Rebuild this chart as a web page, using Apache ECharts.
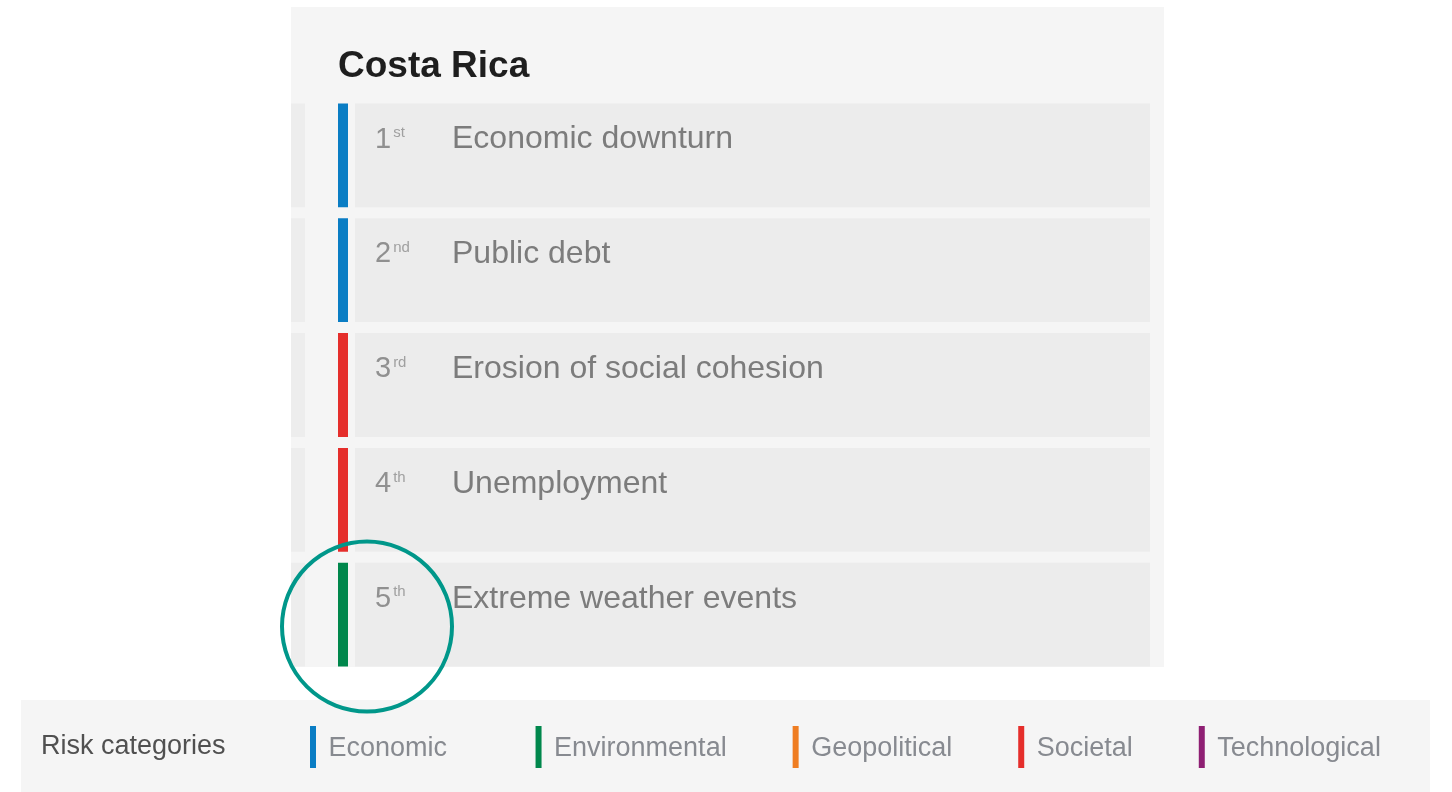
<!DOCTYPE html>
<html>
<head>
<meta charset="utf-8">
<script src="https://cdn.jsdelivr.net/npm/echarts@6/dist/echarts.min.js"></script>
<style>
  html, body { margin: 0; padding: 0; background: #fff; }
  #chart { width: 1452px; height: 792px; }
</style>
</head>
<body>
<div id="chart"></div>
<script>
const country = 'Costa Rica';
const ranks = ['1st', '2nd', '3rd', '4th', '5th'];
const risks = ['Economic downturn', 'Public debt', 'Erosion of social cohesion', 'Unemployment', 'Extreme weather events'];
const riskCategory = ['Economic', 'Economic', 'Societal', 'Societal', 'Environmental'];
const categories = ['Economic', 'Environmental', 'Geopolitical', 'Societal', 'Technological'];
const categoryColors = ['#0a7dc4', '#00874c', '#ef7d22', '#e52e2b', '#8e1f73'];
const highlighted = ['Extreme weather events'];
const legendTitle = 'Risk categories';

const FONT = '"Liberation Sans", Arial, sans-serif';

function renderRow(params, api) {
  const idx = api.value(1);
  const [x0, yc] = api.coord([0, idx]);
  const x1 = api.coord([1, idx])[0];
  const h = api.size([1, 1])[1] - 11;
  const top = yc - h / 2;
  const m = ranks[idx].match(/^(\d+)(\D+)$/);
  return {
    type: 'group',
    children: [
      { type: 'rect', shape: { x: x0, y: top, width: 14, height: h }, style: { fill: '#ededed' } },
      { type: 'rect', shape: { x: x0 + 64, y: top, width: x1 - x0 - 64, height: h }, style: { fill: '#ececec' } },
      { type: 'rect', shape: { x: x0 + 47, y: top, width: 10, height: h }, style: { fill: api.visual('color') } },
      {
        type: 'text', x: x0 + 84, y: top + 36,
        style: {
          text: '{n|' + m[1] + '}{s|' + m[2] + '}',
          verticalAlign: 'middle',
          rich: {
            n: { fontFamily: FONT, fontSize: 29, lineHeight: 30, fill: '#909090' },
            s: { fontFamily: FONT, fontSize: 15, lineHeight: 15, fill: '#a0a0a0', verticalAlign: 'top', padding: [1, 0, 0, 2] }
          }
        }
      },
      {
        type: 'text', x: x0 + 161, y: top + 36,
        style: { text: risks[idx], font: '32px ' + FONT, fill: '#7c7c7c', verticalAlign: 'middle' }
      }
    ]
  };
}

function renderRing(params, api) {
  const idx = api.value(1);
  const [x0, yc] = api.coord([0, idx]);
  return {
    type: 'circle',
    shape: { cx: x0 + 76, cy: yc + 12, r: 85 },
    style: { fill: 'none', stroke: '#00978a', lineWidth: 4 }
  };
}

const rowSeries = categories.map((cat, ci) => ({
  name: cat,
  type: 'custom',
  renderItem: renderRow,
  itemStyle: { color: categoryColors[ci] },
  encode: { x: 0, y: 1 },
  data: risks.filter((r, i) => riskCategory[i] === cat).map(r => [0, r]),
  z: 3,
  silent: true
}));

const chart = echarts.init(document.getElementById('chart'));
chart.setOption({
  animation: false,
  backgroundColor: '#ffffff',
  title: {
    text: country,
    left: 338, top: 48, padding: 0,
    textStyle: { fontFamily: FONT, fontSize: 37, fontWeight: 'bold', color: '#1e1e1e' }
  },
  graphic: [
    { type: 'rect', z: 0, shape: { x: 291, y: 7, width: 873, height: 660 }, style: { fill: '#f5f5f5' } },
    { type: 'rect', z: 0, shape: { x: 21, y: 700, width: 1409, height: 92 }, style: { fill: '#f5f5f5' } },
    { type: 'text', z: 1, x: 41, y: 747, style: { text: legendTitle, font: '27px ' + FONT, fill: '#505050', verticalAlign: 'middle' } }
  ],
  legend: {
    data: categories,
    left: 310, top: 726, padding: 0,
    icon: 'rect', itemWidth: 6, itemHeight: 42, itemGap: 66,
    selectedMode: false,
    // first item is followed by a wider gap in the original
    formatter: name => '{p| }{t|' + name + '}' + (name === categories[0] ? '{q|   }' : ''),
    textStyle: {
      fontFamily: FONT, fontSize: 27, color: '#878a90',
      rich: {
        p: { fontSize: 27 },
        q: { fontSize: 27 },
        t: { fontFamily: FONT, fontSize: 27, color: '#878a90', padding: [3, 0, 0, 0] }
      }
    }
  },
  grid: { left: 291, right: 302, top: 98, height: 574 },
  xAxis: { type: 'value', min: 0, max: 1, show: false },
  yAxis: { type: 'category', data: risks, inverse: true, show: false },
  series: rowSeries.concat([{
    name: 'highlight',
    type: 'custom',
    renderItem: renderRing,
    encode: { x: 0, y: 1 },
    data: highlighted.map(r => [0, r]),
    z: 10,
    silent: true
  }])
});
</script>
</body>
</html>
